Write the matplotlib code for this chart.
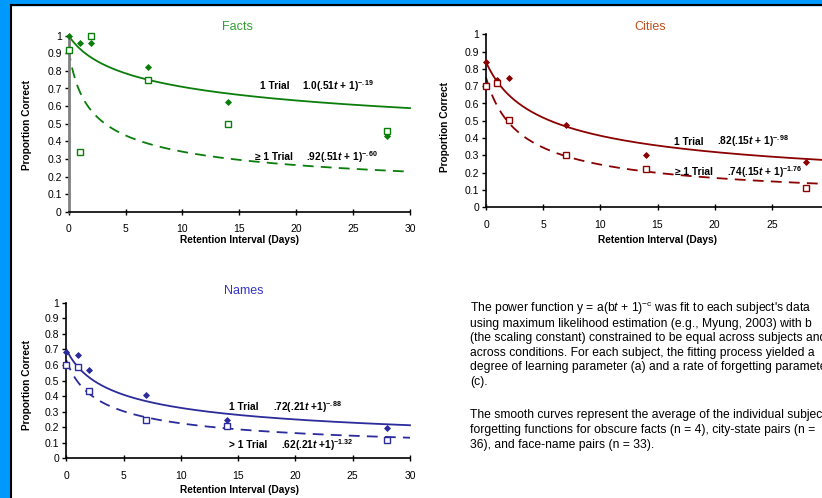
import matplotlib
matplotlib.use("Agg")
import matplotlib.pyplot as plt
import numpy as np
from matplotlib.patches import Rectangle

plt.rcParams['font.family'] = ['Liberation Sans', 'DejaVu Sans']
plt.rcParams['mathtext.fontset'] = 'custom'
plt.rcParams['mathtext.rm'] = 'Liberation Sans'
plt.rcParams['mathtext.bf'] = 'Liberation Sans:bold'
plt.rcParams['mathtext.it'] = 'Liberation Sans:italic:bold'
plt.rcParams['mathtext.sf'] = 'Liberation Sans:italic'

# retention intervals (days)
days = [0, 1, 2, 7, 14, 28]

# observed proportions correct
facts_one = [1.0, 0.96, 0.96, 0.82, 0.625, 0.43]
facts_more = [0.92, 0.34, 1.0, 0.75, 0.50, 0.46]
cities_one = [0.84, 0.735, 0.75, 0.475, 0.30, 0.26]
cities_more = [0.70, 0.72, 0.505, 0.305, 0.22, 0.11]
names_one = [0.68, 0.665, 0.565, 0.41, 0.248, 0.195]
names_more = [0.60, 0.585, 0.43, 0.248, 0.21, 0.118]

# averaged forgetting curves as drawn, y = a(bt + 1)^-c  -> (a, b, c)
facts_curve_one = [1.0, 0.51, 0.19]
facts_curve_more = [0.92, 1.2, 0.387]
cities_curve_one = [0.84, 0.4, 0.44]
cities_curve_more = [0.75, 0.5, 0.62]
names_curve_one = [0.70, 0.5, 0.43]
names_curve_more = [0.63, 0.6, 0.53]

# equation labels printed on the chart
facts_labels = ["1 Trial", r"1.0(.51$\mathit{t}$ + 1)$^{\mathbf{-.19}}$",
                "\u2265 1 Trial", r".92(.51$\mathit{t}$ + 1)$^{\mathbf{-.60}}$"]
cities_labels = ["1 Trial", r".82(.15$\mathit{t}$ + 1)$^{\mathbf{-.98}}$",
                 "\u2265 1 Trial", r".74(.15$\mathit{t}$ + 1)$^{\mathbf{-1.76}}$"]
names_labels = ["1 Trial", r".72(.21$\mathit{t}$ +1)$^{\mathbf{-.88}}$",
                "> 1 Trial", r".62(.21$\mathit{t}$ +1)$^{\mathbf{-1.32}}$"]

paragraph = [
    r"The power function y = a(b$\mathsf{t}$ + 1)$^{\mathrm{-c}}$ was fit to each subject's data",
    "using maximum likelihood estimation (e.g., Myung, 2003) with b",
    "(the scaling constant) constrained to be equal across subjects and",
    "across conditions. For each subject, the fitting process yielded a",
    "degree of learning parameter (a) and a rate of forgetting parameter",
    "(c).",
    "The smooth curves represent the average of the individual subject",
    "forgetting functions for obscure facts (n = 4), city-state pairs (n =",
    "36), and face-name pairs (n = 33).",
]
para_baselines = [312, 326.6, 341.2, 355.8, 370.4, 385, 418.3, 433, 447.7]

W, H = 822, 498
fig = plt.figure(figsize=(W / 100, H / 100), dpi=100)
fig.patch.set_facecolor('white')

# blue frame (top and left)
fig.patches.append(Rectangle((0, 1 - 5 / H), 1, 5 / H, transform=fig.transFigure,
                             color='#0099ff', zorder=0))
fig.patches.append(Rectangle((0, 0), 10 / W, 1, transform=fig.transFigure,
                             color='#0099ff', zorder=0))
fig.add_artist(plt.Line2D([10.5 / W, 10.5 / W], [0, 1 - 5.5 / H], color='black', lw=1.5,
                          transform=fig.transFigure))
fig.add_artist(plt.Line2D([10.5 / W, 1], [1 - 5.5 / H, 1 - 5.5 / H], color='black', lw=1.5,
                          transform=fig.transFigure))


def px_rect(x0, x1, ytop, ybot):
    return [x0 / W, 1 - ybot / H, (x1 - x0) / W, (ybot - ytop) / H]


def panel(rect, one, more, c_one, c_more, labels, label_pos, color, title, title_color,
          title_xy, ylab_xy, xlab_xy, spine_color='black', spine_lw=1.2):
    ax = fig.add_axes(rect)
    t = np.linspace(0, 30, 300)
    a, b, c = c_one
    ax.plot(t, a * (b * t + 1) ** (-c), color=color, lw=1.3, clip_on=False)
    a, b, c = c_more
    ax.plot(t, a * (b * t + 1) ** (-c), color=color, lw=1.3, dashes=(6, 4), clip_on=False)
    ax.plot(days, one, 'D', color=color, ms=3.0, mec=color, mew=0.6, clip_on=False, zorder=5)
    ax.plot(days, more, 's', color=color, ms=4.2, mfc='white', mec=color, mew=1.0,
            clip_on=False, zorder=5)
    ax.set_xlim(0, 30)
    ax.set_ylim(0, 1)
    ax.set_xticks(range(0, 31, 5))
    ax.set_yticks(np.arange(0, 1.01, 0.1))
    ax.set_yticklabels(['0', '0.1', '0.2', '0.3', '0.4', '0.5', '0.6', '0.7', '0.8', '0.9', '1'])
    for s in ['top', 'right']:
        ax.spines[s].set_visible(False)
    ax.spines['bottom'].set_linewidth(1.2)
    ax.spines['left'].set_color(spine_color)
    ax.spines['left'].set_linewidth(spine_lw)
    ax.tick_params(axis='y', direction='out', length=3, width=1, labelsize=7.5, pad=2)
    ax.tick_params(axis='x', direction='inout', length=4, width=1, labelsize=7.5, pad=7)
    ax.patch.set_alpha(0)
    for (x, y), s in zip(label_pos, labels):
        ax.text(x, y, s, fontsize=7.3, fontweight='bold', ha='left', va='center')
    fig.text(title_xy[0] / W, 1 - title_xy[1] / H, title, color=title_color, fontsize=9,
             ha='center', va='center')
    fig.text(ylab_xy[0] / W, 1 - ylab_xy[1] / H, 'Proportion Correct', rotation=90,
             fontsize=7.3, fontweight='bold', ha='center', va='center')
    fig.text(xlab_xy[0] / W, 1 - xlab_xy[1] / H, 'Retention Interval (Days)',
             fontsize=7.3, fontweight='bold', ha='center', va='center')
    return ax


panel(px_rect(68.7, 410, 35.7, 211.7), facts_one, facts_more, facts_curve_one,
      facts_curve_more, facts_labels,
      [(16.8, 0.715), (20.5, 0.715), (16.4, 0.31), (20.9, 0.31)],
      '#0a7d0a', 'Facts', '#33a033', (237, 27), (27, 125), (240, 240),
      spine_color='#808080', spine_lw=2)
panel(px_rect(486, 829, 34.3, 207.3), cities_one, cities_more, cities_curve_one,
      cities_curve_more, cities_labels,
      [(16.4, 0.38), (20.2, 0.38), (16.5, 0.205), (21.05, 0.205)],
      '#8b0000', 'Cities', '#c0501e', (650, 27), (445, 127), (657, 240))
panel(px_rect(66.3, 410, 302.7, 458.3), names_one, names_more, names_curve_one,
      names_curve_more, names_labels,
      [(14.2, 0.332), (18.05, 0.332), (14.2, 0.086), (18.7, 0.086)],
      '#2b2b9b', 'Names', '#3535c8', (244, 290.7), (27, 385), (239, 490))

for s, yb in zip(paragraph, para_baselines):
    fig.text(470 / W, 1 - yb / H, s, fontsize=8.7, ha='left', va='baseline')

fig.savefig('out.png', dpi=100, facecolor='white')
